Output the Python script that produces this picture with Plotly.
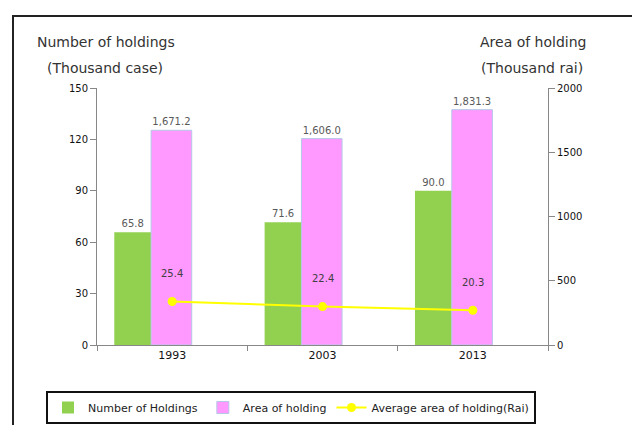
import plotly.graph_objects as go

years = ["1993", "2003", "2013"]
holdings = [65.8, 71.6, 90.0]          # thousand cases (left axis)
area = [1671.2, 1606.0, 1831.3]        # thousand rai (right axis)
avg_area = [25.4, 22.4, 20.3]          # rai per holding (left axis)

FONT = "DejaVu Sans"

fig = go.Figure()
fig.add_trace(go.Bar(
    x=years, y=holdings, name="Number of Holdings",
    marker=dict(color="#92D050", line=dict(width=0)),
    offset=-0.385, width=0.245,
    text=[f"{v:,.1f}" for v in holdings], textposition="outside",
    textfont=dict(family=FONT, size=10, color="#595959"),
    cliponaxis=False, yaxis="y",
))
fig.add_trace(go.Bar(
    x=years, y=area, name="Area of holding",
    marker=dict(color="#FF99FF", line=dict(width=1, color="#B4C7E7")),
    offset=-0.14, width=0.27,
    text=[f"{v:,.1f}" for v in area], textposition="outside",
    textfont=dict(family=FONT, size=10, color="#595959"),
    cliponaxis=False, yaxis="y2",
))
fig.add_trace(go.Scatter(
    x=years, y=avg_area, name="Average area of holding(Rai)",
    mode="lines+markers",
    line=dict(color="#FFFF00", width=2),
    marker=dict(color="#FFFF00", size=9),
    yaxis="y3",
))

for i, yv in enumerate(avg_area):
    fig.add_annotation(x=i, y=yv, xref="x", yref="y3", text=f"{yv:.1f}",
                       showarrow=False, yshift=28,
                       font=dict(family=FONT, size=10, color="#404040"))

# axis titles
for txt, x, y, anchor in [("Number of holdings", 35, 42, "left"),
                          ("(Thousand case)", 45, 68, "left"),
                          ("Area of holding", 588, 42, "right"),
                          ("(Thousand rai)", 585, 68, "right")]:
    fig.add_annotation(x=(x - 97) / 451, y=(345 - y) / 257, xref="paper", yref="paper",
                       text=txt, showarrow=False, xanchor=anchor, yanchor="middle",
                       font=dict(family=FONT, size=14, color="#333333"))

# outer frame
fig.add_shape(type="rect", xref="paper", yref="paper",
              x0=(13 - 97) / 451, x1=(660 - 97) / 451,
              y0=(345 - 440) / 257, y1=(345 - 16) / 257,
              line=dict(color="#222222", width=2), layer="below")

fig.update_layout(
    width=640, height=425,
    margin=dict(l=89, r=100, t=80, b=88, autoexpand=False),
    paper_bgcolor="white", plot_bgcolor="white",
    barmode="overlay",
    showlegend=True,
    legend=dict(orientation="h", x=(46 - 97) / 451, y=(345 - 391) / 257,
                xanchor="left", yanchor="top",
                bordercolor="#111111", borderwidth=2,
                font=dict(family=FONT, size=11, color="#222222"),
                itemwidth=30),
    xaxis=dict(type="category", range=[-0.5, 2.5], showline=True, linecolor="#888888",
               ticks="outside", tickson="boundaries", ticklen=5, tickcolor="#888888",
               tickfont=dict(family=FONT, size=11, color="#111111"), showgrid=False),
    yaxis=dict(range=[0, 150], tickvals=[0, 30, 60, 90, 120, 150], showline=True,
               linecolor="#888888", ticks="outside", ticklen=6, tickcolor="#888888",
               tickfont=dict(family=FONT, size=10, color="#111111"), showgrid=False,
               zeroline=False),
    yaxis2=dict(range=[0, 2000], tickvals=[0, 500, 1000, 1500, 2000], overlaying="y",
                side="right", showline=True, linecolor="#888888", ticks="outside",
                ticklen=6, tickcolor="#888888",
                tickfont=dict(family=FONT, size=10, color="#111111"), showgrid=False,
                zeroline=False),
    yaxis3=dict(range=[0, 150], overlaying="y", visible=False, showgrid=False,
                zeroline=False),
)

fig.write_html("out.html")
